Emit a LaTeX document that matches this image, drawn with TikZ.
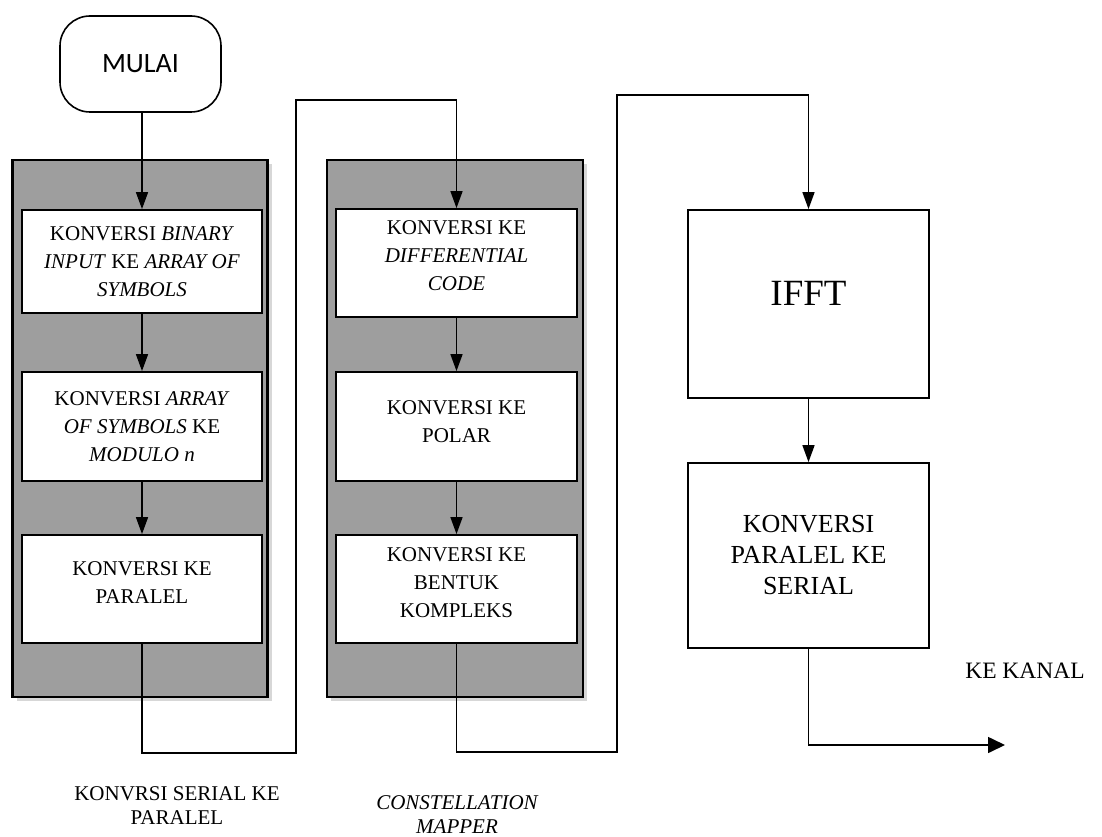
\documentclass[tikz,border=0pt]{standalone}
\usepackage{fontspec}
\setmainfont{Liberation Serif}
\newfontfamily\mulaifont{Carlito}
\usetikzlibrary{arrows.meta,shadows}
\definecolor{panelgray}{RGB}{158,158,158}
\definecolor{shadowgray}{RGB}{215,215,215}
\begin{document}
\begin{tikzpicture}[x=1pt,y=-1pt,
  panel/.style={draw=black,line width=2.2pt,fill=panelgray,
    drop shadow={shadow xshift=4pt,shadow yshift=-4pt,fill=shadowgray,opacity=1}},
  procbox/.style={draw=black,line width=1.8pt,fill=white,minimum width=240pt,
    align=center,inner sep=0pt,font=\fontsize{21}{28}\selectfont},
  bigbox/.style={draw=black,line width=1.8pt,fill=white,minimum width=241pt,
    align=center,inner sep=0pt},
  conn/.style={draw=black,line width=1.6pt},
  arr/.style={conn,-{Triangle[length=17pt,width=12pt]}},
  lbl/.style={align=center,inner sep=0pt,font=\fontsize{21}{24}\selectfont}
]
\useasboundingbox (0,0) rectangle (1102,837);

% start
\node[draw=black,line width=1.6pt,rounded corners=30pt,minimum width=161pt,minimum height=96pt,
  font=\mulaifont\fontsize{28}{32}\selectfont] (mulai) at (140.5,64) {MULAI};

% panels
\node[panel,minimum width=255pt,minimum height=537pt,inner sep=0pt] (p1) at (140,428.5) {};
\node[panel,minimum width=256pt,minimum height=537pt,inner sep=0pt] (p2) at (455,428.5) {};

% junction coordinates
\coordinate (j1) at (296,753);
\coordinate (j2) at (296,100);
\coordinate (j3) at (617,752);
\coordinate (j4) at (617,95);
\coordinate (kanal) at (1005,745);

% column 1 boxes
\node[procbox,minimum height=103pt] (a1) at (142,261.5)
  {KONVERSI \textit{BINARY}\\\textit{INPUT} KE \textit{ARRAY OF}\\\textit{SYMBOLS}};
\node[procbox,minimum height=109pt] (a2) at (142,426.5)
  {KONVERSI \textit{ARRAY}\\\textit{OF SYMBOLS} KE\\\textit{MODULO n}};
\node[procbox,minimum height=108pt] (a3) at (142,589)
  {KONVERSI KE\\PARALEL\\[-16pt]};

% column 2 boxes
\node[procbox,minimum width=241pt,minimum height=108pt] (b1) at (456.5,263)
  {KONVERSI KE\\\textit{DIFFERENTIAL}\\\textit{CODE}\\[-14pt]};
\node[procbox,minimum width=241pt,minimum height=109pt] (b2) at (456.5,426.5)
  {KONVERSI KE\\POLAR\\[-18pt]};
\node[procbox,minimum width=241pt,minimum height=108pt] (b3) at (456.5,589)
  {KONVERSI KE\\BENTUK\\KOMPLEKS\\[-16pt]};

% column 3 boxes
\node[bigbox,minimum height=188pt,font=\fontsize{37}{40}\selectfont] (c1) at (808.5,304)
  {IFFT\\[-18pt]};
\node[bigbox,minimum height=185pt,font=\fontsize{26}{31}\selectfont] (c2) at (808.5,555.5)
  {KONVERSI\\PARALEL KE\\SERIAL};

% connectors
\draw[arr] (mulai.south -| a1) -- (a1.north);
\draw[arr] (a1.south) -- (a2.north);
\draw[arr] (a2.south) -- (a3.north);
\draw[conn] (a3.south) -- (a3.south |- j1) -- (j1) -- (j2) -- (j2 -| b1);
\draw[arr] (j2 -| b1) -- (b1.north);
\draw[arr] (b1.south) -- (b2.north);
\draw[arr] (b2.south) -- (b3.north);
\draw[conn] (b3.south) -- (b3.south |- j3) -- (j3) -- (j4) -- (j4 -| c1);
\draw[arr] (j4 -| c1) -- (c1.north);
\draw[arr] (c1.south) -- (c2.north);
\draw[conn,-{Triangle[length=17pt,width=16pt]}] (c2.south) -- (c2.south |- kanal) -- (kanal);

% labels
\node[lbl,font=\fontsize{23.5}{26}\selectfont] (kk) at (1025,671) {KE KANAL};
\node[lbl] (ser) at (177,806) {KONVRSI SERIAL KE\\PARALEL};
\node[lbl,font=\itshape\fontsize{21}{24}\selectfont] (cm) at (457,815) {CONSTELLATION\\MAPPER};
\end{tikzpicture}
\end{document}
